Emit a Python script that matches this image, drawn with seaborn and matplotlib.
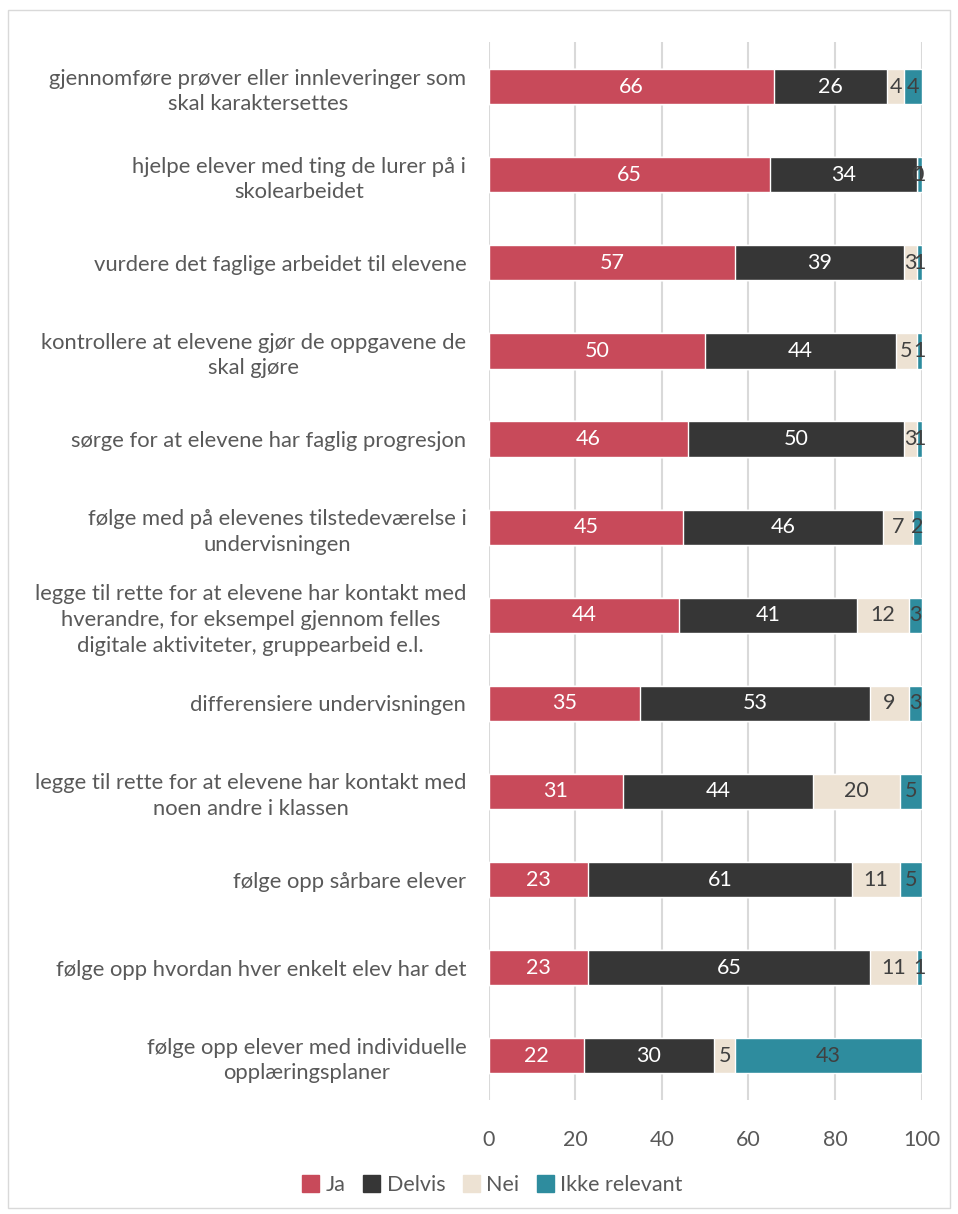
import matplotlib
matplotlib.use("Agg")
import matplotlib.pyplot as plt
import matplotlib.patches as mpatches
import numpy as np
import pandas as pd
import seaborn as sns

sns.set_style("white")
plt.rcParams["font.family"] = ["Lato", "DejaVu Sans"]

categories = [
    "gjennomføre prøver eller innleveringer som\nskal karaktersettes",
    "hjelpe elever med ting de lurer på i\nskolearbeidet",
    "vurdere det faglige arbeidet til elevene",
    "kontrollere at elevene gjør de oppgavene de\nskal gjøre",
    "sørge for at elevene har faglig progresjon",
    "følge med på elevenes tilstedeværelse i\nundervisningen",
    "legge til rette for at elevene har kontakt med\nhverandre, for eksempel gjennom felles\ndigitale aktiviteter, gruppearbeid e.l.",
    "differensiere undervisningen",
    "legge til rette for at elevene har kontakt med\nnoen andre i klassen",
    "følge opp sårbare elever",
    "følge opp hvordan hver enkelt elev har det",
    "følge opp elever med individuelle\nopplæringsplaner",
]
ja = [66, 65, 57, 50, 46, 45, 44, 35, 31, 23, 23, 22]
delvis = [26, 34, 39, 44, 50, 46, 41, 53, 44, 61, 65, 30]
nei = [4, 0, 3, 5, 3, 7, 12, 9, 20, 11, 11, 5]
ikke_relevant = [4, 1, 1, 1, 1, 2, 3, 3, 5, 5, 1, 43]

series_names = ["Ja", "Delvis", "Nei", "Ikke relevant"]
colors = ["#C84A5A", "#363636", "#EDE2D3", "#2E8C9E"]
label_colors = ["white", "white", "#404040", "#404040"]

df = pd.DataFrame(
    {"kategori": categories, "Ja": ja, "Delvis": delvis, "Nei": nei, "Ikke relevant": ikke_relevant}
)
cum = df[series_names].cumsum(axis=1)

fig = plt.figure(figsize=(9.58, 12.14), dpi=100)
ax = fig.add_axes([0.510, 0.094, 0.452, 0.871])

# stacked bars: draw cumulative totals from the back to the front
for name, color in reversed(list(zip(series_names, colors))):
    sns.barplot(
        x=cum[name], y=df["kategori"], orient="h", color=color,
        width=0.4, saturation=1, ax=ax, order=categories,
    )

# segment labels centred in each piece (small pieces overlap, as in the original)
for name, lc in zip(series_names, label_colors):
    for i, (v, c) in enumerate(zip(df[name], cum[name])):
        ax.text(c - v / 2, i, f"{v}", ha="center", va="center",
                fontsize=15.5, color=lc)

ax.set_xlim(0, 100)
ax.set_ylim(11.5, -0.5)
ax.set_xticks(range(0, 101, 20))
ax.set_xlabel("")
ax.set_ylabel("")
ax.grid(axis="x", color="#D9D9D9", linewidth=1.5)
ax.set_axisbelow(True)
for s in ax.spines.values():
    s.set_visible(False)
ax.tick_params(axis="y", length=0, pad=16, labelsize=15.8, labelcolor="#595959")
ax.tick_params(axis="x", length=0, pad=22, labelsize=15.5, labelcolor="#595959")
for lbl in ax.get_yticklabels():
    lbl.set_horizontalalignment("right")
    lbl.set_multialignment("center")
    lbl.set_linespacing(1.35)

handles = [mpatches.Patch(color=c, label=n) for n, c in zip(series_names, colors)]
fig.legend(handles=handles, loc="center", bbox_to_anchor=(0.514, 0.024), ncol=4,
           frameon=False, fontsize=15.5, handlelength=0.8, handleheight=0.8,
           handletextpad=0.3, columnspacing=0.8, labelcolor="#595959")

fig.patches.append(mpatches.Rectangle((0.008, 0.005), 0.984, 0.987, transform=fig.transFigure,
                                      fill=False, edgecolor="#D9D9D9", linewidth=1))

fig.savefig("out.png", dpi=100)
